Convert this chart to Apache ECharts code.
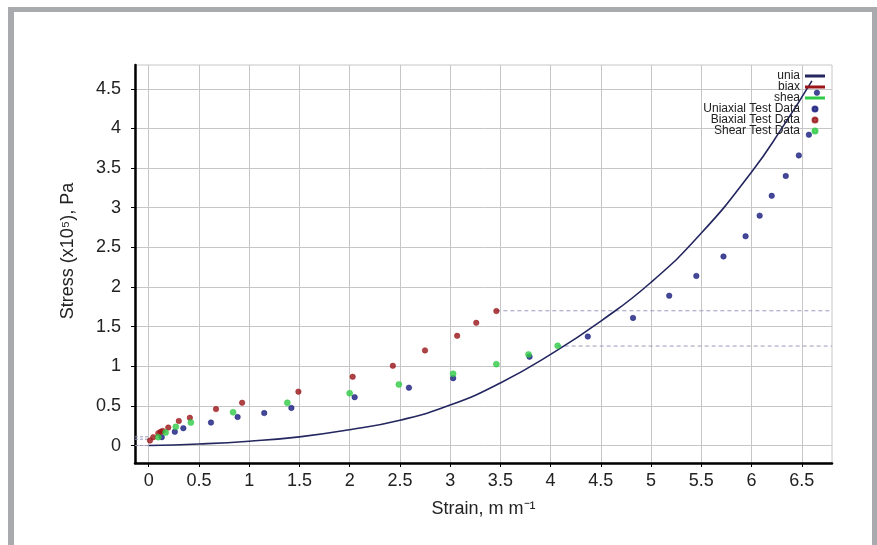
<!DOCTYPE html>
<html>
<head>
<meta charset="utf-8">
<script src="https://cdn.jsdelivr.net/npm/echarts@6/dist/echarts.min.js"></script>
<style>
  html, body { margin: 0; padding: 0; background: #fff; }
  #frame {
    position: absolute; left: 8px; top: 7px; width: 858px; height: 560px;
    border-left: 6px solid #a9aaad; border-top: 5px solid #a9aaad; border-right: 5px solid #a9aaad;
  }
  #chart { position: absolute; left: 0; top: 0; width: 877px; height: 545px; }
</style>
</head>
<body>
<div id="frame"></div>
<div id="chart"></div>
<script>
// 轴刻度
const strainTicks = [0, 0.5, 1, 1.5, 2, 2.5, 3, 3.5, 4, 4.5, 5, 5.5, 6, 6.5];
const stressTicks = [0, 0.5, 1, 1.5, 2, 2.5, 3, 3.5, 4, 4.5];

// 单轴拟合曲线
const uniaFitStrain = [0, 0.5, 1.0, 1.5, 2.0, 2.5, 3.0, 3.5, 4.0, 4.5, 5.0, 5.5, 6.0, 6.3, 6.6];
const uniaFitStress = [0, 0.02, 0.055, 0.11, 0.2, 0.32, 0.51, 0.79, 1.15, 1.57, 2.06, 2.68, 3.45, 4.0, 4.6];

// 试验数据
const uniaxStrain = [0.13, 0.26, 0.345, 0.62, 0.885, 1.15, 1.42, 2.05, 2.59, 3.03, 3.79, 4.37, 4.82, 5.18, 5.45, 5.72, 5.94, 6.08, 6.2, 6.34, 6.47, 6.57, 6.65];
const uniaxStress = [0.106, 0.173, 0.219, 0.29, 0.36, 0.41, 0.475, 0.61, 0.73, 0.85, 1.12, 1.375, 1.61, 1.89, 2.14, 2.385, 2.64, 2.9, 3.15, 3.4, 3.66, 3.92, 4.45];

const biaxStrain = [0.013, 0.046, 0.096, 0.119, 0.139, 0.195, 0.3, 0.41, 0.67, 0.93, 1.49, 2.03, 2.43, 2.75, 3.07, 3.26, 3.46];
const biaxStress = [0.063, 0.106, 0.156, 0.173, 0.185, 0.227, 0.31, 0.35, 0.46, 0.54, 0.68, 0.867, 1.006, 1.2, 1.384, 1.548, 1.696];

const shearStrain = [0.096, 0.169, 0.27, 0.42, 0.84, 1.38, 2.0, 2.49, 3.03, 3.46, 3.78, 4.07];
const shearStress = [0.106, 0.164, 0.236, 0.29, 0.42, 0.54, 0.66, 0.77, 0.905, 1.027, 1.15, 1.258];

// 虚线延长段
const strainRange = [-0.136, 6.8];
const stressRange = [-0.22, 4.8];
const biaxDashLeft = [0.11];
const shearDashLeft = [0.08];
const uniaDashLeft = [0];
const biaxDashRight = { from: 3.46, level: 1.7 };
const shearDashRight = { from: 4.07, level: 1.255 };

const pairs = (xs, ys) => xs.map((x, i) => [x, ys[i]]);

const chart = echarts.init(document.getElementById('chart'));

const navy = '#23265f';
const red = '#9a1418';
const blue = '#151a7c';
const green = '#2fcb46';
const dashGrey = '#9a9bbb';
const font = 'Liberation Sans, Arial, sans-serif';
const lineIcon = 'path://M0,0H40V6H0Z';

const dashStub = (name, y) => ({
    name: name,
    type: 'line',
    symbol: 'none',
    silent: true,
    data: [[strainRange[0], y], [0, y]],
    lineStyle: { color: dashGrey, width: 1, type: [3, 2] },
    z: 2
});

const dot = (color) => ({ color: color, borderColor: color, borderWidth: 0.6 });

const option = {
    animation: false,
    backgroundColor: 'transparent',
    textStyle: { fontFamily: font },
    grid: {
        left: 135, top: 65, right: 45, bottom: 82,
        show: true, borderColor: '#c6c6c6', borderWidth: 1,
        containLabel: false
    },
    legend: {
        orient: 'vertical',
        align: 'right',
        right: 47,
        top: 65,
        z: 10,
        itemWidth: 20,
        itemHeight: 5,
        itemGap: -1,
        symbolKeepAspect: true,
        textStyle: { fontSize: 12, color: '#222', fontFamily: font },
        data: [
            { name: 'unia', icon: lineIcon, itemStyle: { color: navy } },
            { name: 'biax', icon: lineIcon, itemStyle: { color: red } },
            { name: 'shea', icon: lineIcon, itemStyle: { color: green } },
            { name: 'Uniaxial Test Data', icon: 'circle', itemStyle: { color: blue } },
            { name: 'Biaxial Test Data', icon: 'circle', itemStyle: { color: red } },
            { name: 'Shear Test Data', icon: 'circle', itemStyle: { color: green } }
        ]
    },
    xAxis: {
        type: 'value',
        min: strainRange[0],
        max: strainRange[1],
        name: 'Strain, m m\u207B\u00B9',
        nameLocation: 'middle',
        nameGap: 37,
        nameTextStyle: { fontSize: 18, color: '#222', fontFamily: font },
        axisLine: { onZero: false, lineStyle: { color: '#000', width: 2.5 } },
        axisTick: { show: true, length: 4, customValues: strainTicks, lineStyle: { color: '#000' } },
        axisLabel: { customValues: strainTicks, fontSize: 18, color: '#222', margin: 9, fontFamily: font },
        splitLine: { show: true, lineStyle: { color: '#c6c6c6', width: 1 } }
    },
    yAxis: {
        type: 'value',
        min: stressRange[0],
        max: stressRange[1],
        name: 'Stress (x10\u2075), Pa',
        nameLocation: 'middle',
        nameGap: 58,
        nameTextStyle: { fontSize: 18, color: '#222', fontFamily: font, padding: [0, 0, 0, 26] },
        axisLine: { onZero: false, lineStyle: { color: '#000', width: 2.5 } },
        axisTick: { show: true, length: 4, customValues: stressTicks, lineStyle: { color: '#000' } },
        axisLabel: { customValues: stressTicks, fontSize: 18, color: '#222', margin: 14, fontFamily: font },
        splitLine: { show: true, lineStyle: { color: '#c6c6c6', width: 1 } }
    },
    series: [
        {
            name: 'unia',
            type: 'line',
            smooth: true,
            symbol: 'none',
            data: pairs(uniaFitStrain, uniaFitStress),
            lineStyle: { color: navy, width: 1.6 },
            itemStyle: { color: navy },
            z: 3
        },
        {
            name: 'biax',
            type: 'line',
            symbol: 'none',
            data: [[biaxDashRight.from, biaxDashRight.level], [strainRange[1], biaxDashRight.level]],
            lineStyle: { color: dashGrey, width: 1, type: [4, 3] },
            itemStyle: { color: red },
            z: 2
        },
        {
            name: 'shea',
            type: 'line',
            symbol: 'none',
            data: [[shearDashRight.from, shearDashRight.level], [strainRange[1], shearDashRight.level]],
            lineStyle: { color: dashGrey, width: 1, type: [4, 3] },
            itemStyle: { color: green },
            z: 2
        },
        dashStub('biax', biaxDashLeft[0]),
        dashStub('shea', shearDashLeft[0]),
        dashStub('unia', uniaDashLeft[0]),
        {
            name: 'Uniaxial Test Data',
            type: 'scatter',
            symbol: 'circle',
            symbolSize: 5.5,
            data: pairs(uniaxStrain, uniaxStress),
            itemStyle: dot(blue),
            z: 3
        },
        {
            name: 'Biaxial Test Data',
            type: 'scatter',
            symbol: 'circle',
            symbolSize: 5.5,
            data: pairs(biaxStrain, biaxStress),
            itemStyle: dot(red),
            z: 3
        },
        {
            name: 'Shear Test Data',
            type: 'scatter',
            symbol: 'circle',
            symbolSize: 6,
            data: pairs(shearStrain, shearStress),
            itemStyle: dot(green),
            z: 3
        }
    ]
};

chart.setOption(option);
</script>
</body>
</html>
